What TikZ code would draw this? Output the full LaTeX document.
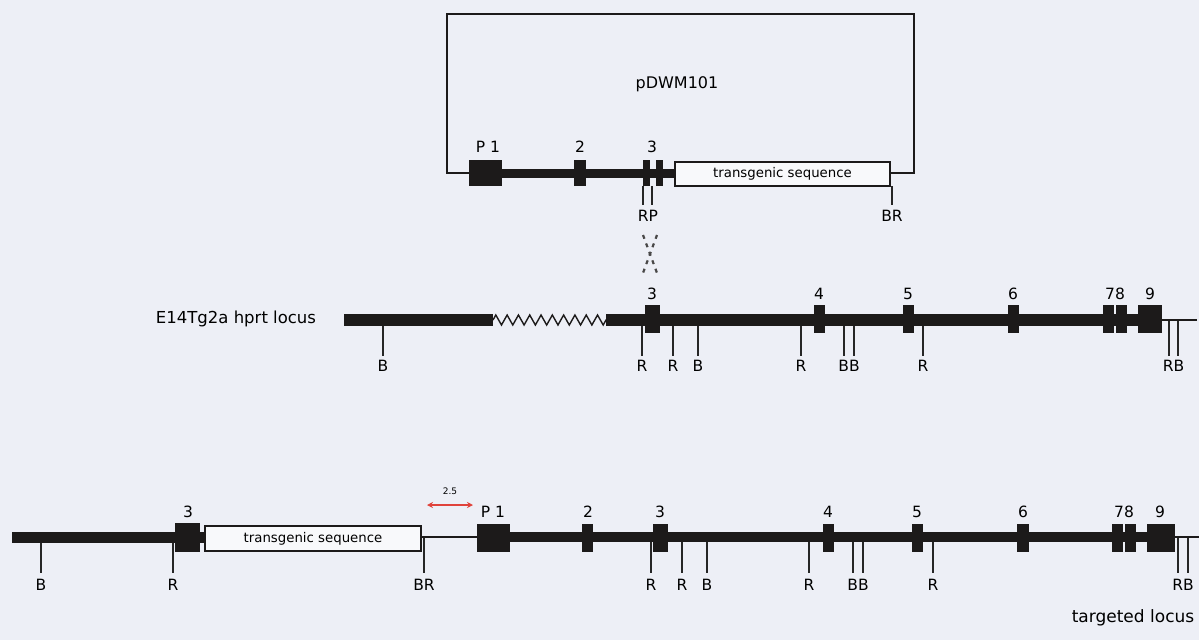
\documentclass[tikz,border=0pt]{standalone}
\usepackage{fontspec}
\setmainfont{DejaVu Sans}
\usetikzlibrary{arrows.meta,decorations.pathmorphing}
\definecolor{pagebg}{HTML}{EDEFF6}
\definecolor{dnac}{HTML}{1C1A1A}
\definecolor{arrc}{HTML}{E0433B}
\tikzset{
  exon/.style={fill=dnac},
  site/.style={line width=1.3pt,black!85},
  thin/.style={line width=1.5pt,dnac},
  lab/.style={font=\fontsize{15.5}{15.5}\selectfont,inner sep=0pt},
  tbox/.style={draw=dnac,line width=1.8pt,fill=white!60!pagebg,inner sep=0pt,font=\fontsize{13.3}{13.3}\selectfont},
  xdash/.style={line width=2.2pt,dash pattern=on 4pt off 5pt,dnac!80}
}

\begin{document}
\begin{tikzpicture}[x=1pt,y=-1pt]
\useasboundingbox (0,0) rectangle (1199,640);
\fill[pagebg] (0,0) rectangle (1199,640);
% plasmid
\draw[thin] (469,173) -| (447,14) -| (914,173) -- (890,173);
\node[font=\fontsize{16}{16}\selectfont] (pname) at (677,84) {pDWM101};
\fill[dnac] (469,168.5) rectangle (676,177.5);
\fill[exon] (469,160) rectangle (502,186);
\fill[exon] (574,160) rectangle (586,186);
\fill[exon] (643,160) rectangle (650,186);
\fill[exon] (656,160) rectangle (663,186);
\node[tbox,minimum width=215,minimum height=24] (tga) at (782.5,174) {transgenic sequence};
\foreach \x in {643,652,892} \draw[site] (\x,186)--(\x,205);
\node[lab] (pp1) at (488,147) {P 1};
\node[lab] (pe2) at (580,147) {2};
\node[lab] (pe3) at (652,147) {3};
\node[lab] (prp) at (648,216) {RP};
\node[lab] (pbr) at (892,216) {BR};
% crossover
\draw[xdash] (643,235)--(657,273);
\draw[xdash] (657,235)--(643,273);
% hprt locus
\node[font=\fontsize{16.5}{16.5}\selectfont] (hname) at (236,319) {E14Tg2a hprt locus};
\foreach \x in {383,642,673,698,801,844,854,923,1169,1178} \draw[site] (\x,320)--(\x,356);
\fill[dnac] (344,313.5) rectangle (493,325.5);
\draw[line width=1.4pt,dnac,decorate,decoration={zigzag,segment length=11.3pt,amplitude=5pt}] (493,320)--(606,320);
\fill[dnac] (606,313.5) rectangle (1162,325.5);
\draw[thin] (1162,320)--(1197,320);
\foreach \a/\b in {645/660,814/825,903/914,1008/1019,1103/1114,1116/1127,1138/1162}
  \fill[exon] (\a,305) rectangle (\b,333);
\foreach \x/\t [count=\i] in {652/3,819/4,908/5,1013/6,1115/78,1150/9}
  \node[lab] (he\i) at (\x,294) {\t};
\foreach \x/\t [count=\i] in {383/B,642/R,673/R,698/B,801/R,849/BB,923/R,1173.5/RB}
  \node[lab] (hs\i) at (\x,366) {\t};
% targeted locus
\foreach \x in {41,173,424,651,682,707,809,853,863,933,1178,1188} \draw[site] (\x,537)--(\x,573);
\fill[dnac] (12,531.5) rectangle (205,542.5);
\fill[exon] (175,523) rectangle (200,552);
\node[tbox,minimum width=216,minimum height=25] (tgb) at (313,538.5) {transgenic sequence};
\draw[thin] (421,537)--(477,537);
\fill[dnac] (510,532) rectangle (1175,542);
\fill[exon] (477,524) rectangle (510,552);
\foreach \a/\b in {582/593,653/668,823/834,912/923,1017/1029,1112/1123,1125/1136,1147/1175}
  \fill[exon] (\a,524) rectangle (\b,552);
\draw[thin] (1175,537)--(1199,537);
\foreach \x/\t [count=\i] in {188/3,493/P 1,588/2,660/3,828/4,917/5,1023/6,1124/78,1160/9}
  \node[lab] (te\i) at (\x,512) {\t};
\foreach \x/\t [count=\i] in {41/B,173/R,424/BR,651/R,682/R,707/B,809/R,858/BB,933/R,1183/RB}
  \node[lab] (ts\i) at (\x,585) {\t};
\coordinate (gl) at (427,505);
\coordinate (gr) at (473,505);
\draw[{Stealth[length=6pt,width=6pt]}-{Stealth[length=6pt,width=6pt]},line width=1.8pt,arrc] (gl)--(gr);
\node[font=\fontsize{9}{9}\selectfont] (gap) at (450,491) {2.5};
\node[font=\fontsize{17}{17}\selectfont] (tname) at (1133,618) {targeted locus};
\end{tikzpicture}
\end{document}
